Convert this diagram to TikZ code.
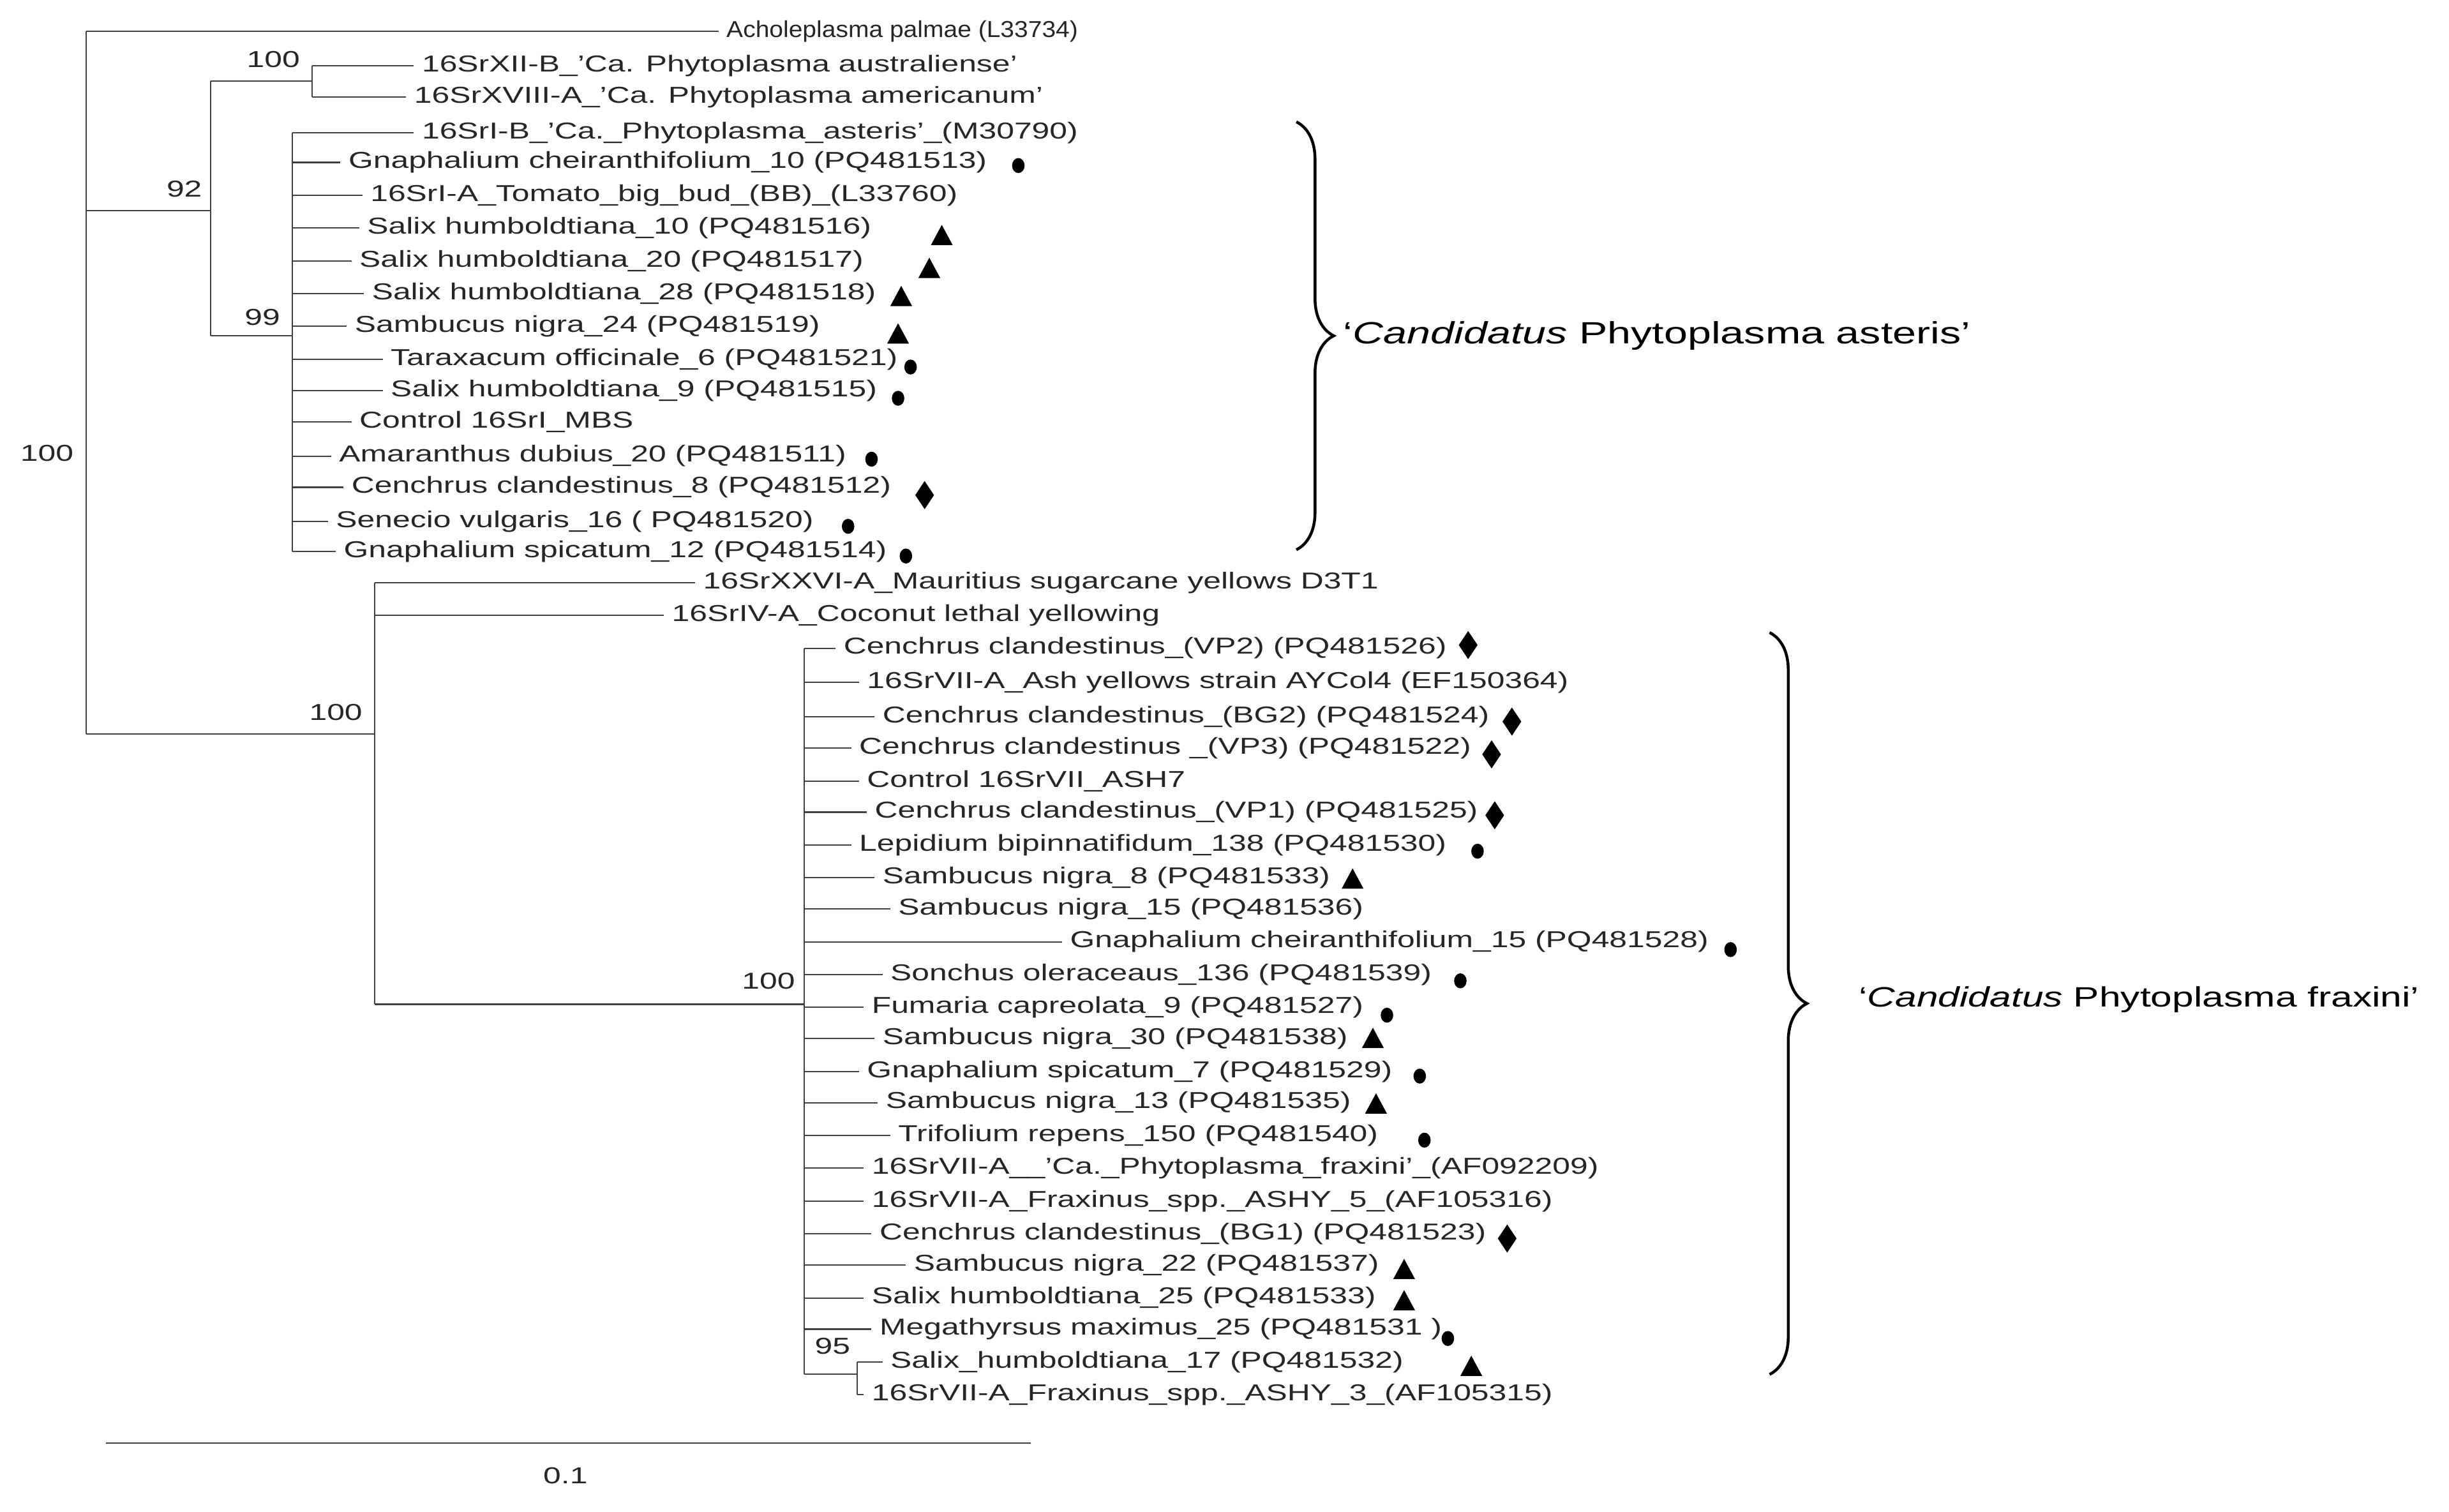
\documentclass[tikz,border=0pt]{standalone}
\usepackage{fontspec}
\setmainfont[FakeStretch=1.38]{Liberation Sans}
\newfontfamily\narrowf[FakeStretch=1.08]{Liberation Sans}
\usetikzlibrary{decorations.pathreplacing}
\begin{document}
\begin{tikzpicture}[x={(0.05cm,0)},y={(0,-0.05cm)},
 br/.style={line width=1.2pt,black!75},
 leaf/.style={anchor=west,inner sep=0pt,font=\fontsize{21}{24}\selectfont,text=black!85},
 bs/.style={font=\fontsize{21}{24}\selectfont,text=black!85,inner sep=0pt},
 cl/.style={font=\fontsize{28}{32}\selectfont,anchor=west,inner sep=0pt},
 brc/.style={decorate,decoration={brace,amplitude=34pt,aspect=0.5},line width=2.6pt}]
\useasboundingbox (0,0) rectangle (1568,968);
\newcommand{\dt}[2]{\fill (#1,#2) ellipse (4 and 4.8);}
\newcommand{\tri}[2]{\fill (#1-7,#2+6) -- (#1+7,#2+6) -- (#1,#2-7) -- cycle;}
\newcommand{\dia}[2]{\fill (#1-6,#2) -- (#1,#2-9) -- (#1+6,#2) -- (#1,#2+9) -- cycle;}
\newcommand{\lt}[5]{\draw[br] (#1,#3) -- (#2,#3); \node[leaf] (#4) at (#2+5,#3) {#5};}
% root
\draw[br] (55,20) -- (55,470);
\node[bs] (b0) at (30,290) {100};
\lt{55}{460}{20}{l1}{\narrowf Acholeplasma palmae (L33734)}
% clade 92
\draw[br] (55,135) -- (135,135);
\draw[br] (135,52) -- (135,215);
\node[bs] (b92) at (118,121) {92};
\draw[br] (135,52) -- (200,52); \draw[br] (200,42) -- (200,62);
\node[bs] (b100a) at (175,38) {100};
\lt{200}{265}{42}{l2}{16SrXII-B\_'Ca. Phytoplasma australiense'}
\lt{200}{260}{62}{l3}{16SrXVIII-A\_'Ca. Phytoplasma americanum'}
\draw[br] (135,215) -- (187,215); \draw[br] (187,85) -- (187,353);
\node[bs] (b99) at (168,203) {99};
\lt{187}{265}{85}{a1}{16SrI-B\_'Ca.\_Phytoplasma\_asteris'\_(M30790)}
\lt{187}{218}{104}{a2}{Gnaphalium cheiranthifolium\_10 (PQ481513)} \dt{652}{106}
\lt{187}{232}{125}{a3}{16SrI-A\_Tomato\_big\_bud\_(BB)\_(L33760)}
\lt{187}{230}{146}{a4}{Salix humboldtiana\_10 (PQ481516)} \tri{603}{151}
\lt{187}{225}{167}{a5}{Salix humboldtiana\_20 (PQ481517)} \tri{595}{172}
\lt{187}{233}{188}{a6}{Salix humboldtiana\_28 (PQ481518)} \tri{577}{190}
\lt{187}{222}{209}{a7}{Sambucus nigra\_24 (PQ481519)} \tri{575}{214}
\lt{187}{245}{230}{a8}{Taraxacum officinale\_6 (PQ481521)} \dt{583}{235}
\lt{187}{245}{250}{a9}{Salix humboldtiana\_9 (PQ481515)} \dt{575}{255}
\lt{187}{225}{270}{a10}{Control 16SrI\_MBS}
\lt{187}{212}{292}{a11}{Amaranthus dubius\_20 (PQ481511)} \dt{558}{294}
\lt{187}{220}{312}{a12}{Cenchrus clandestinus\_8 (PQ481512)} \dia{592}{317}
\lt{187}{210}{334}{a13}{Senecio vulgaris\_16 ( PQ481520)} \dt{543}{337}
\lt{187}{215}{353}{a14}{Gnaphalium spicatum\_12 (PQ481514)} \dt{580}{356}
% clade 2
\draw[br] (55,470) -- (240,470); \draw[br] (240,373) -- (240,643);
\node[bs] (b100b) at (215,456) {100};
\lt{240}{445}{373}{m1}{16SrXXVI-A\_Mauritius sugarcane yellows D3T1}
\lt{240}{425}{394}{m2}{16SrIV-A\_Coconut lethal yellowing}
\draw[br] (240,643) -- (515,643); \draw[br] (515,415) -- (515,880);
\node[bs] (b100c) at (492,628) {100};
\lt{515}{535}{415}{f1}{Cenchrus clandestinus\_(VP2) (PQ481526)} \dia{940}{413}
\lt{515}{550}{437}{f2}{16SrVII-A\_Ash yellows strain AYCol4 (EF150364)}
\lt{515}{560}{459}{f3}{Cenchrus clandestinus\_(BG2) (PQ481524)} \dia{968}{462}
\lt{515}{545}{479}{f4}{Cenchrus clandestinus \_(VP3) (PQ481522)} \dia{955}{483}
\lt{515}{550}{500}{f5}{Control 16SrVII\_ASH7}
\lt{515}{555}{520}{f6}{Cenchrus clandestinus\_(VP1) (PQ481525)} \dia{957}{522}
\lt{515}{545}{541}{f7}{Lepidium bipinnatifidum\_138 (PQ481530)} \dt{946}{545}
\lt{515}{560}{562}{f8}{Sambucus nigra\_8 (PQ481533)} \tri{866}{563}
\lt{515}{570}{582}{f9}{Sambucus nigra\_15 (PQ481536)}
\lt{515}{680}{603}{f10}{Gnaphalium cheiranthifolium\_15 (PQ481528)} \dt{1108}{608}
\lt{515}{565}{624}{f11}{Sonchus oleraceaus\_136 (PQ481539)} \dt{935}{628}
\lt{515}{553}{645}{f12}{Fumaria capreolata\_9 (PQ481527)} \dt{888}{650}
\lt{515}{560}{665}{f13}{Sambucus nigra\_30 (PQ481538)} \tri{879}{665}
\lt{515}{550}{686}{f14}{Gnaphalium spicatum\_7 (PQ481529)} \dt{909}{689}
\lt{515}{562}{706}{f15}{Sambucus nigra\_13 (PQ481535)} \tri{881}{707}
\lt{515}{570}{727}{f16}{Trifolium repens\_150 (PQ481540)} \dt{912}{730}
\lt{515}{553}{748}{f17}{16SrVII-A\_\_'Ca.\_Phytoplasma\_fraxini'\_(AF092209)}
\lt{515}{553}{769}{f18}{16SrVII-A\_Fraxinus\_spp.\_ASHY\_5\_(AF105316)}
\lt{515}{558}{790}{f19}{Cenchrus clandestinus\_(BG1) (PQ481523)} \dia{965}{793}
\lt{515}{580}{810}{f20}{Sambucus nigra\_22 (PQ481537)} \tri{899}{813}
\lt{515}{553}{831}{f21}{Salix humboldtiana\_25 (PQ481533)} \tri{899}{833}
\lt{515}{558}{851}{f22}{Megathyrsus maximus\_25 (PQ481531 )} \dt{927}{857}
\draw[br] (515,880) -- (549,880); \draw[br] (549,872) -- (549,893);
\node[bs] (b95) at (533,862) {95};
\lt{549}{565}{872}{f23}{Salix\_humboldtiana\_17 (PQ481532)} \tri{942}{875}
\lt{549}{553}{893}{f24}{16SrVII-A\_Fraxinus\_spp.\_ASHY\_3\_(AF105315)}
% scale bar
\draw[br] (68,924) -- (660,924);
\node[bs] (sc) at (362,945) {0.1};
% braces
\draw[brc] (830,78) -- (830,352);
\node[cl] (c1) at (860,215) {‘\textit{Candidatus} Phytoplasma asteris’};
\draw[brc] (1133,405) -- (1133,880);
\node[cl,font=\fontsize{25.5}{30}\selectfont] (c2) at (1190,640) {‘\textit{Candidatus} Phytoplasma fraxini’};
\end{tikzpicture}
\end{document}
